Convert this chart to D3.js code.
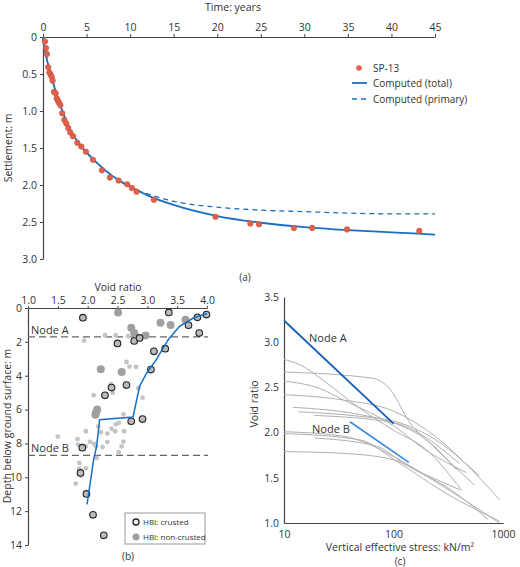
<!DOCTYPE html><html><head><meta charset="utf-8"><script src="https://cdn.jsdelivr.net/npm/d3@7"></script>
<style>body{margin:0;background:#fff}text{font-family:"Open Sans",sans-serif;fill:#333}</style></head><body><svg id="s" width="520" height="567"></svg><script>
// ---- Panel (a) data
const obsT=[0.23,0.34,0.46,0.6,0.73,0.88,1.0,1.1,1.26,1.45,1.57,1.72,1.83,1.99,2.2,2.45,2.68,2.9,3.13,3.44,3.94,4.4,4.93,5.73,6.77,7.68,8.68,9.67,10.2,10.74,12.73,19.8,23.8,24.8,28.8,30.9,34.9,43.2];
const obsS=[0.06,0.15,0.23,0.41,0.48,0.51,0.54,0.59,0.74,0.76,0.83,0.86,0.89,0.92,1.03,1.12,1.17,1.23,1.29,1.34,1.43,1.48,1.55,1.66,1.8,1.9,1.94,1.99,2.04,2.09,2.2,2.43,2.52,2.53,2.58,2.58,2.6,2.62];
const curveT=[0,0.1,0.3,0.5,1,2,3,4,5,6,8,10,12,15,20,25,30,35,40,45];
const totalS=[0,0.1,0.22,0.33,0.55,0.93,1.22,1.42,1.56,1.68,1.88,2.02,2.14,2.27,2.42,2.51,2.57,2.61,2.64,2.67];
const primS=[0,0.1,0.22,0.33,0.55,0.93,1.22,1.42,1.56,1.68,1.88,2.03,2.12,2.22,2.30,2.34,2.36,2.38,2.39,2.39];
const tTicks=[0,5,10,15,20,25,30,35,40,45], sTicks=[0,0.5,1.0,1.5,2.0,2.5,3.0];
// ---- Panel (b) data
const crE=[1.92,3.36,3.84,3.99,3.69,3.87,2.78,2.87,2.5,3.11,3.3,3.06,2.4,2.65,2.29,2.92,2.73,1.91,1.88,1.98,2.09,2.27];
const crD=[0.57,0.26,0.55,0.39,1.02,1.48,1.95,1.77,2.09,2.56,2.4,3.64,4.7,4.55,5.16,6.56,6.69,8.25,9.74,10.98,12.22,13.43];
const ncE=[2.51,3.22,3.39,3.64,2.73,2.78,2.97,2.22,2.57,2.16,2.14,2.13];
const ncD=[0.26,0.87,1.0,0.69,1.16,1.48,1.63,3.62,3.78,6.0,6.18,6.3];
const smE=[1.94,2.29,2.47,2.68,2.65,2.81,2.7,2.85,2.92,2.1,2.42,2.39,2.6,2.18,2.22,2.33,2.46,2.61,2.4,2.47,2.52,1.97,1.83,1.84,1.5,2.04,2.11,2.14,1.97,2.33,2.25,2.57,2.6,2.15,2.52,1.86,1.86,1.97,1.89,1.8];
const smD=[1.93,1.61,1.61,1.67,3.19,3.48,3.46,4.74,5.3,5.16,5.0,4.5,6.28,6.99,7.34,7.42,7.28,7.28,7.13,6.87,6.79,7.28,7.74,8.07,7.6,7.91,8.03,8.17,8.17,7.91,8.21,8.17,7.89,8.86,8.52,9.15,9.49,9.47,9.9,10.37];
const fitE=[4.0,3.77,3.54,3.35,3.15,2.99,2.87,2.76,2.2,2.15,2.1,1.99];
const fitD=[0.33,0.59,1.08,1.87,3.05,3.84,4.63,6.44,6.6,8.17,8.96,11.6];
const nodeDepths=[1.7,8.7], nodeNames=["Node A","Node B"];
const eTicks=[1.0,1.5,2.0,2.5,3.0,3.5,4.0], dTicks=[0,2,4,6,8,10,12,14];
// ---- Panel (c) data
const grayCurves=[
 [[10,2.81],[14,2.75],[24.5,2.55],[49,2.27],[99,2.03],[200,1.81],[420,1.36]],
 [[10,2.67],[65,2.6],[93,2.48],[141,2.11],[230,1.85],[550,1.42]],
 [[10,2.57],[21,2.49],[35,2.36],[99,2.08],[200,1.8],[460,1.56]],
 [[10,2.42],[35,2.36],[99,2.24],[200,2.03],[930,1.26]],
 [[12,2.28],[49,2.2],[99,2.11],[200,1.92],[375,1.59]],
 [[13.5,2.23],[49,2.18],[106,2.12],[215,1.96],[610,1.52]],
 [[19,2.19],[99,2.11],[400,1.66]],
 [[10,2.01],[35,1.96],[99,1.74],[200,1.52],[930,1.0]],
 [[10,1.99],[49,1.92],[114,1.66],[300,1.33],[930,1.02]],
 [[19,1.94],[70,1.85],[123,1.66],[350,1.35],[730,1.04]],
 [[10,1.79],[35,1.77],[99,1.7],[200,1.53],[400,1.37]]];
const nodeA=[[10,3.24],[100,2.1]], nodeB=[[40,2.12],[138,1.67]];
const cYTicks=[1.0,1.5,2.0,2.5,3.0,3.5], cXTicks=[10,100,1000];
const blue="#1a6fc4", gray="#444";
const svg=d3.select("#s");
function styleAxis(g){g.selectAll("path,line").attr("stroke",gray);g.selectAll("text").attr("font-size",10.5).attr("fill","#333");g.select(".domain").attr("stroke-width",1.2);}
// Panel a
const xa=d3.scaleLinear([0,45],[43,435]), ya=d3.scaleLinear([0,3],[37,259]);
svg.append("g").attr("transform","translate(0,37)").call(d3.axisTop(xa).tickValues(tTicks).tickSize(3).tickSizeOuter(0)).call(styleAxis);
svg.append("g").attr("transform","translate(43,0)").call(d3.axisLeft(ya).tickValues(sTicks).tickFormat(d=>d===0?"0":d3.format(".1f")(d)).tickSize(3).tickSizeOuter(0)).call(styleAxis);
svg.append("text").attr("x",233).attr("y",11).attr("text-anchor","middle").attr("font-size",10.5).text("Time: years");
svg.append("text").attr("transform","translate(12,148) rotate(-90)").attr("text-anchor","middle").attr("font-size",10.5).text("Settlement: m");
const la=d3.line().x((d,i)=>xa(curveT[i])).y(d=>ya(d)).curve(d3.curveMonotoneX);
svg.append("path").attr("d",la(primS)).attr("fill","none").attr("stroke",blue).attr("stroke-width",1.3).attr("stroke-dasharray","5,4");
svg.append("path").attr("d",la(totalS)).attr("fill","none").attr("stroke",blue).attr("stroke-width",1.8);
svg.selectAll(".o").data(obsT).join("circle").attr("cx",d=>xa(d)).attr("cy",(d,i)=>ya(obsS[i])).attr("r",2.8).attr("fill","#e0604a").attr("stroke","#c0503a").attr("stroke-width",0.5);
svg.append("circle").attr("cx",359).attr("cy",68).attr("r",2.8).attr("fill","#e0604a");
svg.append("line").attr("x1",352).attr("x2",367).attr("y1",83).attr("y2",83).attr("stroke",blue).attr("stroke-width",1.8);
svg.append("line").attr("x1",352).attr("x2",367).attr("y1",99).attr("y2",99).attr("stroke",blue).attr("stroke-width",1.3).attr("stroke-dasharray","5,4");
[["SP-13",68],["Computed (total)",83],["Computed (primary)",99]].forEach(([t,y])=>svg.append("text").attr("x",373).attr("y",y+4).attr("font-size",10).text(t));
svg.append("text").attr("x",245).attr("y",281).attr("text-anchor","middle").attr("font-size",10).text("(a)");
// Panel b
const xb=d3.scaleLinear([1,4],[28,207]), yb=d3.scaleLinear([0,14],[308,545]);
svg.append("g").attr("transform","translate(0,308)").call(d3.axisTop(xb).tickValues(eTicks).tickFormat(d3.format(".1f")).tickSize(2).tickPadding(2).tickSizeOuter(0)).call(styleAxis);
svg.append("g").attr("transform","translate(28,0)").call(d3.axisLeft(yb).tickValues(dTicks).tickSize(3).tickSizeOuter(0)).call(styleAxis);
svg.append("text").attr("x",118).attr("y",291).attr("text-anchor","middle").attr("font-size",10.5).text("Void ratio");
svg.append("text").attr("transform","translate(11,426) rotate(-90)").attr("text-anchor","middle").attr("font-size",10.5).text("Depth below ground surface: m");
nodeDepths.forEach((d,i)=>{svg.append("line").attr("x1",28).attr("x2",208).attr("y1",yb(d)).attr("y2",yb(d)).attr("stroke","#666").attr("stroke-width",1.3).attr("stroke-dasharray","7,4");
 svg.append("text").attr("x",31).attr("y",yb(d)-3).attr("font-size",11).text(nodeNames[i]);});
svg.selectAll(".sm").data(smE).join("circle").attr("cx",d=>xb(d)).attr("cy",(d,i)=>yb(smD[i])).attr("r",2.4).attr("fill","#c4c4c4");
svg.selectAll(".nc").data(ncE).join("circle").attr("cx",d=>xb(d)).attr("cy",(d,i)=>yb(ncD[i])).attr("r",4).attr("fill","#a0a0a0");
svg.selectAll(".cr").data(crE).join("circle").attr("cx",d=>xb(d)).attr("cy",(d,i)=>yb(crD[i])).attr("r",3.3).attr("fill","#bbb").attr("stroke","#222").attr("stroke-width",1.1);
svg.append("path").attr("d",d3.line().x(d=>xb(d)).y((d,i)=>yb(fitD[i])).curve(d3.curveLinear)(fitE)).attr("fill","none").attr("stroke",blue).attr("stroke-width",1.5);
svg.append("rect").attr("x",125).attr("y",513).attr("width",80).attr("height",31).attr("fill","#fff").attr("stroke","#999");
svg.append("circle").attr("cx",136).attr("cy",522).attr("r",3).attr("fill","#fff").attr("stroke","#222").attr("stroke-width",1.3);
svg.append("circle").attr("cx",136).attr("cy",537).attr("r",3.5).attr("fill","#a0a0a0");
svg.append("text").attr("x",143).attr("y",525).attr("font-size",8).attr("fill","#555").text("HBI: crusted");
svg.append("text").attr("x",143).attr("y",540).attr("font-size",8).attr("fill","#555").text("HBI: non-crusted");
svg.append("text").attr("x",128).attr("y",560).attr("text-anchor","middle").attr("font-size",10).text("(b)");
// Panel c
const xc=d3.scaleLog([10,1000],[284,503]), yc=d3.scaleLinear([1,3.5],[523,297]);
svg.append("g").attr("transform","translate(0,523)").call(d3.axisBottom(xc).tickValues(cXTicks).tickFormat(d3.format("d")).tickSize(0).tickPadding(8).tickSizeOuter(0)).call(styleAxis);
svg.append("g").attr("transform","translate(284,0)").call(d3.axisLeft(yc).tickValues(cYTicks).tickFormat(d3.format(".1f")).tickSize(0).tickPadding(5).tickSizeOuter(0)).call(styleAxis);
const lc=d3.line().x(d=>xc(d[0])).y(d=>yc(d[1])).curve(d3.curveMonotoneX);
grayCurves.forEach(c=>svg.append("path").attr("d",lc(c)).attr("fill","none").attr("stroke","#b0b0b0").attr("stroke-width",1));
svg.append("path").attr("d",lc(nodeA)).attr("fill","none").attr("stroke","#1560b8").attr("stroke-width",1.8);
svg.append("path").attr("d",lc(nodeB)).attr("fill","none").attr("stroke","#3a86d8").attr("stroke-width",1.6);
svg.append("text").attr("x",309).attr("y",342).attr("font-size",11).text("Node A");
svg.append("text").attr("x",312).attr("y",433).attr("font-size",11).text("Node B");
svg.append("text").attr("transform","translate(258,404) rotate(-90)").attr("text-anchor","middle").attr("font-size",10.5).text("Void ratio");
svg.append("text").attr("x",400).attr("y",551).attr("text-anchor","middle").attr("font-size",10.5).text("Vertical effective stress: kN/m²");
svg.append("text").attr("x",400).attr("y",565).attr("text-anchor","middle").attr("font-size",10).text("(c)");
</script></body></html>
